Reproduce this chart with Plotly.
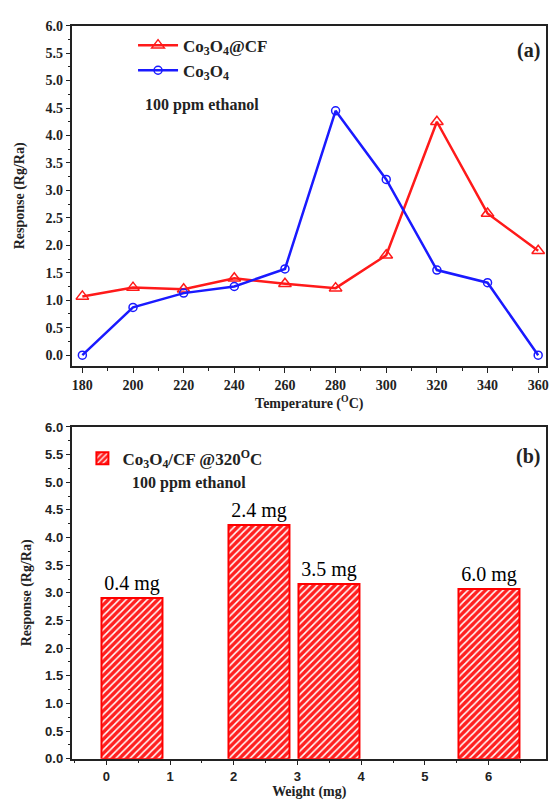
import plotly.graph_objects as go

# ---- data ----
temperature = [180, 200, 220, 240, 260, 280, 300, 320, 340, 360]
resp_co3o4_cf = [1.07, 1.23, 1.20, 1.40, 1.30, 1.22, 1.82, 4.25, 2.58, 1.90]
resp_co3o4 = [0.00, 0.87, 1.13, 1.25, 1.57, 4.45, 3.20, 1.55, 1.32, 0.00]

weight_mg = [0.4, 2.4, 3.5, 6.0]
weight_resp = [2.90, 4.23, 3.16, 3.07]
weight_labels = ["0.4 mg", "2.4 mg", "3.5 mg", "6.0 mg"]

x_ticks_a = [180, 200, 220, 240, 260, 280, 300, 320, 340, 360]
x_ticks_b = [0, 1, 2, 3, 4, 5, 6]

W, H = 554, 802
SERIF = "Liberation Serif"
SANS = "Liberation Sans"


def px(x):
    return x / W


def py(y):
    return 1 - y / H


fig = go.Figure()

fig.add_trace(go.Scatter(
    x=temperature, y=resp_co3o4_cf, mode="lines+markers",
    name="Co<sub>3</sub>O<sub>4</sub>@CF",
    line=dict(color="#ff1a1a", width=2.5),
    marker=dict(symbol="triangle-up-open", size=11, color="#ff1a1a",
                line=dict(width=1.5, color="#ff1a1a")),
    xaxis="x", yaxis="y", legend="legend"))
fig.add_trace(go.Scatter(
    x=temperature, y=resp_co3o4, mode="lines+markers",
    name="Co<sub>3</sub>O<sub>4</sub>",
    line=dict(color="#1a1aff", width=2.5),
    marker=dict(symbol="circle-open", size=8, color="#1a1aff",
                line=dict(width=1.5, color="#1a1aff")),
    xaxis="x", yaxis="y", legend="legend"))

fig.add_trace(go.Bar(
    x=weight_mg, y=weight_resp, width=0.96,
    name="Co<sub>3</sub>O<sub>4</sub>/CF @320<sup>O</sup>C",
    text=weight_labels, textposition="outside",
    textfont=dict(family=SERIF, size=20, color="black"),
    cliponaxis=False,
    marker=dict(color="#ff2020",
                line=dict(color="#ff0000", width=2),
                pattern=dict(shape="/", fgcolor="white", bgcolor="#ff2020",
                             size=5, solidity=0.3, fillmode="replace")),
    xaxis="x2", yaxis="y2", legend="legend2"))

axis_common = dict(
    showline=True, linecolor="#222", linewidth=1.5, mirror=True,
    ticks="outside", ticklen=5, tickwidth=1.2, tickcolor="#222",
    showgrid=False, zeroline=False,
)

tick_serif = dict(family=SERIF, size=14, color="#222", weight="bold")
tick_sans = dict(family=SANS, size=13, color="#222", weight="bold")
title_font = dict(family=SERIF, size=14, color="#222", weight="bold")

fig.update_layout(
    width=W, height=H,
    margin=dict(l=0, r=0, t=0, b=0),
    paper_bgcolor="white", plot_bgcolor="white",
    bargap=0,
    xaxis=dict(domain=[px(72), px(549)], anchor="y", range=[176.1, 363.1],
               tickvals=x_ticks_a, tickfont=tick_serif,
               minor=dict(ticks="outside", dtick=10, ticklen=3, tickcolor="#222"),
               title=dict(text="Temperature (<sup>O</sup>C)", font=title_font, standoff=4),
               **axis_common),
    yaxis=dict(domain=[py(366), py(19)], anchor="x", range=[-0.2, 6.0],
               dtick=0.5, tickformat=".1f", tickfont=tick_serif,
               minor=dict(ticks="outside", dtick=0.25, ticklen=3, tickcolor="#222"),
               title=dict(text="Response (Rg/Ra)", font=title_font, standoff=18),
               **axis_common),
    xaxis2=dict(domain=[px(72), px(549)], anchor="y2", range=[-0.53, 6.9],
                tickvals=x_ticks_b, tickfont=tick_sans,
                minor=dict(ticks="outside", dtick=0.5, ticklen=3, tickcolor="#222"),
                title=dict(text="Weight (mg)", font=title_font, standoff=2),
                **axis_common),
    yaxis2=dict(domain=[py(766), py(428)], anchor="x2", range=[0, 6.0],
                dtick=0.5, tickformat=".1f", tickfont=tick_sans,
                minor=dict(ticks="outside", dtick=0.25, ticklen=3, tickcolor="#222"),
                title=dict(text="Response (Rg/Ra)", font=title_font, standoff=10),
                **axis_common),
    legend=dict(x=px(133), y=py(21), xanchor="left", yanchor="top",
                bgcolor="rgba(0,0,0,0)", borderwidth=0,
                font=dict(family=SERIF, size=17, color="#222", weight="bold"),
                tracegroupgap=0, itemwidth=40),
    legend2=dict(x=px(82), y=py(442), xanchor="left", yanchor="top",
                 bgcolor="rgba(0,0,0,0)", borderwidth=0,
                 font=dict(family=SERIF, size=17, color="#222", weight="bold")),
    showlegend=True,
)

annots = [
    dict(text="100 ppm ethanol", x=px(202), y=py(100)),
    dict(text="(a)", x=px(531), y=py(44), size=20),
    dict(text="100 ppm ethanol", x=px(189), y=py(485)),
    dict(text="(b)", x=px(531), y=py(458), size=20),
]
for a in annots:
    fig.add_annotation(
        text=a["text"], x=a["x"], y=a["y"], xref="paper", yref="paper",
        showarrow=False, xanchor="center", yanchor="middle",
        font=dict(family=SERIF, size=a.get("size", 16), color="#222", weight="bold"))

fig.write_html("out.html")
